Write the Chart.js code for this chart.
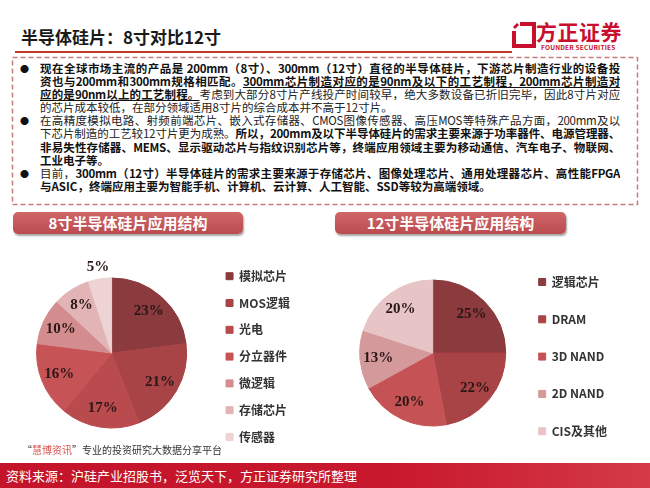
<!DOCTYPE html>
<html><head><meta charset="utf-8">
<script src="https://cdn.jsdelivr.net/npm/chart.js@4.4.1/dist/chart.umd.min.js"></script>
<style>
html,body{margin:0;padding:0;background:#fff;width:650px;height:488px;overflow:hidden;font-family:"Noto Sans CJK SC","Noto Sans",sans-serif;}
#page{position:relative;width:650px;height:488px;}
.abs{position:absolute;}
#title{left:21px;top:26px;font-size:17px;font-weight:bold;color:#1a1a1a;line-height:22px;white-space:nowrap;}
#rule{left:15px;top:51px;width:497px;height:2px;background:#c0392b;}
#logoTxt{left:536px;top:18px;font-size:21px;font-weight:bold;color:#c8102e;line-height:26px;white-space:nowrap;letter-spacing:0.5px;}
#logoSub{left:541px;top:43px;font-size:6.5px;font-weight:bold;color:#c8102e;line-height:8px;white-space:nowrap;letter-spacing:0.2px;}
#txt{left:40px;top:62px;width:580px;font-size:11.5px;line-height:13.1px;color:#222;}
.ln{white-space:nowrap;height:13.1px;}
.j{text-align:justify;text-align-last:justify;white-space:normal;overflow:hidden;letter-spacing:-0.3px;}
.b{font-weight:bold;color:#111;}
.u{text-decoration:underline;text-underline-offset:1px;}
.bul{left:20px;font-size:9px;line-height:13.1px;color:#111;}
.pill{height:22px;border-radius:5px;background:linear-gradient(#cf6668,#bb4b4e);box-shadow:1px 2px 2px rgba(0,0,0,0.35);color:#fff;font-weight:bold;font-size:15px;line-height:22px;text-align:center;white-space:nowrap;}
#wm{left:22px;top:443px;font-size:10px;line-height:14px;color:#333;white-space:nowrap;}
#wm span{color:#d9534f;}
#foot{left:0;top:463px;width:650px;height:25px;background:linear-gradient(90deg,#c3142a,#c8182e 60%,#d43a48);}
#footTxt{left:6px;top:463px;font-size:13px;line-height:25px;color:#fff;white-space:nowrap;}
canvas{position:absolute;}
</style></head>
<body><div id="page">
<div id="title" class="abs">半导体硅片：8寸对比12寸</div>
<div id="rule" class="abs"></div>
<svg class="abs" style="left:512px;top:22px" width="24" height="26" viewBox="0 0 24 26">
  <path d="M8 2 L22 2 L22 24 L2 24 L2 9" fill="none" stroke="#c8102e" stroke-width="4"/>
  <path d="M2 6 L6 2" stroke="#c8102e" stroke-width="3"/>
</svg>
<div id="logoTxt" class="abs">方正证券</div>
<div id="logoSub" class="abs">FOUNDER SECURITIES</div>
<svg class="abs" style="left:0;top:0" width="650" height="220">
  <rect x="12.5" y="57.5" width="625" height="147" fill="none" stroke="#c97a7e" stroke-width="1.5" stroke-dasharray="5 3"/>
</svg>
<div class="abs bul" style="top:62px">●</div>
<div class="abs bul" style="top:114.4px">●</div>
<div class="abs bul" style="top:166.8px">●</div>
<div id="txt" class="abs">
<div class="ln j b">现在全球市场主流的产品是 200mm（8寸）、300mm（12寸）直径的半导体硅片，下游芯片制造行业的设备投</div>
<div class="ln j"><span class="b">资也与200mm和300mm规格相匹配。</span><span class="b u">300mm芯片制造对应的是90nm及以下的工艺制程，200mm芯片制造对</span></div>
<div class="ln j"><span class="b u">应的是90nm以上的工艺制程。</span>考虑到大部分8寸片产线投产时间较早，绝大多数设备已折旧完毕，因此8寸片对应</div>
<div class="ln">的芯片成本较低，在部分领域适用8寸片的综合成本并不高于12寸片。</div>
<div class="ln j">在高精度模拟电路、射频前端芯片、嵌入式存储器、CMOS图像传感器、高压MOS等特殊产品方面，200mm及以</div>
<div class="ln j">下芯片制造的工艺较12寸片更为成熟。<span class="b">所以，200mm及以下半导体硅片的需求主要来源于功率器件、电源管理器、</span></div>
<div class="ln j b">非易失性存储器、MEMS、显示驱动芯片与指纹识别芯片等，终端应用领域主要为移动通信、汽车电子、物联网、</div>
<div class="ln b">工业电子等。</div>
<div class="ln j">目前，<span class="b">300mm（12寸）半导体硅片的需求主要来源于存储芯片、图像处理芯片、通用处理器芯片、高性能FPGA</span></div>
<div class="ln b">与ASIC，终端应用主要为智能手机、计算机、云计算、人工智能、SSD等较为高端领域。</div>
</div>
<div class="abs pill" style="left:13px;top:212px;width:230px;">8寸半导体硅片应用结构</div>
<div class="abs pill" style="left:335px;top:212px;width:231px;">12寸半导体硅片应用结构</div>
<canvas id="c8" width="288" height="228" style="left:12px;top:239px"></canvas>
<canvas id="c12" width="265" height="228" style="left:352px;top:239px"></canvas>
<div id="wm" class="abs">“<span>慧博资讯</span>”专业的投资研究大数据分享平台</div>
<div id="foot" class="abs"></div>
<div id="footTxt" class="abs">资料来源：沪硅产业招股书，泛览天下，方正证券研究所整理</div>
</div>
<script>
// ---- data ----
const cats8 = ['模拟芯片','MOS逻辑','光电','分立器件','微逻辑','存储芯片','传感器'];
const vals8 = [23,21,17,16,10,8,5];
const cats12 = ['逻辑芯片','DRAM','3D NAND','2D NAND','CIS及其他'];
const vals12 = [25,22,20,13,20];
// ---- styles ----
const colors8 = ['#8b3a3d','#a84346','#b94a4d','#c65456','#d38d8f','#e2b4b5','#edd3d4'];
const colors12 = ['#8b3a3d','#a84346','#c55355','#d4999b','#e7c5c6'];

const pctLabels = {
  id:'pctLabels',
  afterDatasetsDraw(chart){
    const ctx = chart.ctx;
    const meta = chart.getDatasetMeta(0);
    const data = chart.data.datasets[0].data;
    ctx.save();
    ctx.font = 'bold 15px "Liberation Serif", "DejaVu Serif", serif';
    ctx.fillStyle = '#2b1717';
    ctx.textAlign = 'center';
    ctx.textBaseline = 'middle';
    meta.data.forEach((arc,i)=>{
      const p = arc.getProps(['x','y','startAngle','endAngle','outerRadius'], true);
      const a = (p.startAngle + p.endAngle)/2;
      const f = data[i] < 6 ? 1.16 : 0.75;
      ctx.fillText(data[i] + '%', p.x + Math.cos(a)*p.outerRadius*f, p.y + Math.sin(a)*p.outerRadius*f);
    });
    ctx.restore();
  }
};

function makePie(id, labels, values, colors, radius, pad){
  new Chart(document.getElementById(id), {
    type:'pie',
    data:{labels:labels, datasets:[{data:values, backgroundColor:colors, borderColor:colors, borderWidth:1, radius:radius}]},
    options:{
      responsive:false, animation:false,
      layout:{padding:0},
      plugins:{
        tooltip:{enabled:false},
        legend:{
          position:'right',
          title:{display:true, text:'', font:{size:1}, padding:{top:0,bottom:6}},
          labels:{boxWidth:7, boxHeight:7, padding:pad, color:'#333',
            font:{family:'"Noto Sans CJK SC", sans-serif', size:12, weight:'bold'}}
        }
      }
    },
    plugins:[pctLabels]
  });
}
makePie('c8', cats8, vals8, colors8, 75, 14.8);
makePie('c12', cats12, vals12, colors12, 73, 25.3);
</script>
</body></html>
